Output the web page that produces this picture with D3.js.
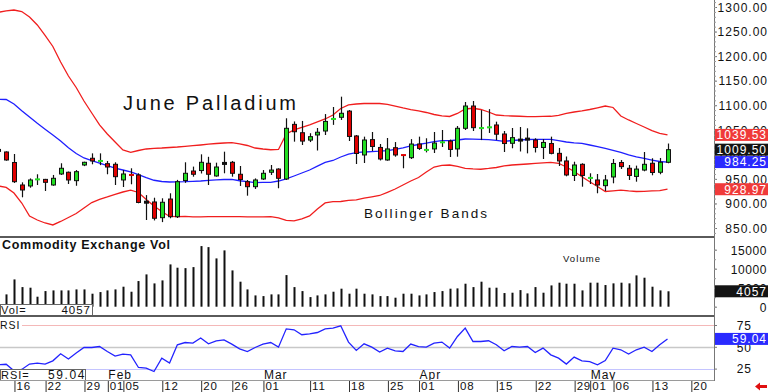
<!DOCTYPE html>
<html>
<head>
<meta charset="utf-8">
<script src="https://cdn.jsdelivr.net/npm/d3@7"></script>
<style>
  html, body { margin: 0; padding: 0; background: #fff; }
  svg { display: block; }
  text { font-family: "Liberation Sans", Arial, sans-serif; }
</style>
</head>
<body>
<svg id="chart" width="768" height="392"></svg>
<script>
// ---------------- DATA ----------------
const dates = [
  "2024-01-11","2024-01-12","2024-01-16","2024-01-17","2024-01-18","2024-01-19","2024-01-22","2024-01-23","2024-01-24","2024-01-25","2024-01-26","2024-01-29","2024-01-30","2024-01-31",
  "2024-02-01","2024-02-02","2024-02-05","2024-02-06","2024-02-07","2024-02-08","2024-02-09","2024-02-12","2024-02-13","2024-02-14","2024-02-15","2024-02-16","2024-02-20","2024-02-21","2024-02-22","2024-02-23","2024-02-26","2024-02-27","2024-02-28","2024-02-29",
  "2024-03-01","2024-03-04","2024-03-05","2024-03-06","2024-03-07","2024-03-08","2024-03-11","2024-03-12","2024-03-13","2024-03-14","2024-03-15","2024-03-18","2024-03-19","2024-03-20","2024-03-21","2024-03-22","2024-03-25","2024-03-26","2024-03-27","2024-03-28",
  "2024-04-01","2024-04-02","2024-04-03","2024-04-04","2024-04-05","2024-04-08","2024-04-09","2024-04-10","2024-04-11","2024-04-12","2024-04-15","2024-04-16","2024-04-17","2024-04-18","2024-04-19","2024-04-22","2024-04-23","2024-04-24","2024-04-25","2024-04-26","2024-04-29","2024-04-30",
  "2024-05-01","2024-05-02","2024-05-03","2024-05-06","2024-05-07","2024-05-08","2024-05-09","2024-05-10","2024-05-13","2024-05-14","2024-05-15"
];
const futureDates = ["2024-05-16","2024-05-17","2024-05-20"];

const open = [1010,1004.8,983.4,937.6,935.6,948,949,937.6,960,963.5,946.4,978.3,992,985.5,981,979.7,947.8,958,958,902.5,903,871,909,873,946.7,966,967,981.8,956,981.5,983.8,959.4,944.3,934.1,949.8,963.5,970,949.8,1061,1044,1029,1039.4,1047.5,1071,1075.4,1088,1037.4,998.7,1030,1014,988.5,1013.5,998.5,993.2,1021,1008,1011,1023,1027,1011,1053,1098.4,1052,1054,1059.8,1041.4,1022.5,1029,1031,1029.2,1014,1022,1002,986.5,957,979.7,951,947.8,936.2,953.9,983.4,971.6,955,968,981.8,963.5,983.8];
const high = [1023,1006,1000.7,943,951,959.4,950,958,981.8,965,968,985,1002,1002,986.5,983.8,968,971.6,961.4,917,911.7,910.5,920.7,948,983.8,975,1000,995,983,1005.4,986.5,976.3,947.8,951,968,978.3,971.6,1073.4,1067,1068,1043,1053.6,1082,1096.4,1117.4,1090.3,1039.4,1036,1045.5,1021,1033.3,1025,999,1031,1036,1032.7,1045.5,1049.6,1030,1057.7,1106.6,1108.6,1090,1092,1066.5,1047.5,1053.6,1055.7,1053,1032.7,1031,1036,1013,995.6,985,981.8,961.4,960,958,990.5,988.5,978.3,977,1004.8,992,992.6,1022];
const low = [1003,987,941.7,912.5,932,937.6,925.4,936,958,939.6,936,976,979.7,978,959.4,937.6,933.5,939,900.3,866.3,865.4,862,869.8,870.4,942,954.5,961,937.6,954.5,961.4,954.5,935.6,915.8,929.5,947.8,958,930.9,947.8,1025.8,1019,1025,1007.8,1039.4,1060,1070,1027.2,980.3,982.4,1006.8,987.5,987,995.2,971.6,990.5,1008.9,1004,1002.7,1015,994.6,995.2,1049.6,1047.5,1029,1043.5,1029,1004.8,1012.3,1005.8,1002,1003.8,990.5,1000,976.3,955.3,945.7,934.1,939.6,920.7,925.4,941,970.2,947.8,944.3,965.5,957.3,959.4,981.8];
const close = [1006,988.5,944.3,927.4,947.8,949,943,951.2,971.6,947.8,964.7,983.8,986.5,986.5,974.2,954.5,960,956.8,902,902.5,869.8,902.4,873,944.3,961.4,959.4,983.8,959.4,974.2,981.5,961.4,948.8,934.1,947.8,961.4,968,951.2,1053,1046,1027,1036,1045,1067,1072,1083.6,1036.4,1001.7,1029.2,1016,990.5,1011,998.7,997,1021,1012,1009,1023,1024.5,1010,1053,1098.4,1054.3,1053.5,1055,1041,1022,1034,1029,1031,1014,1024.2,1002,986.5,958,978.3,957,952,937.6,947.8,981.4,975,957,970,979.7,963,983.8,1009.5];

const upperBand = [1289.2,1291.9,1293.9,1290.8,1279.6,1263.4,1242.0,1219.6,1188.0,1159.5,1136.1,1108.6,1084.2,1059.8,1041.5,1025.1,1008.9,1004.2,1007.8,1010.9,1012.3,1012.9,1013.9,1014.9,1016.4,1017.6,1019.0,1020.7,1022.1,1023.1,1023.7,1021.5,1018.0,1012.9,1010.9,1009.3,1009.9,1041.4,1049.6,1054.7,1059.8,1065.9,1072.0,1080.1,1093.4,1100.5,1102.5,1103.5,1103.9,1103.5,1101.9,1098.4,1094.4,1090.9,1088.3,1085.2,1081.1,1078.1,1077.1,1083.2,1092.3,1093.8,1091.3,1086.2,1080.1,1078.7,1078.1,1077.5,1076.9,1076.7,1077.1,1077.5,1079.5,1083.2,1086.2,1088.3,1091.3,1094.8,1098.4,1095.4,1078.1,1070.0,1062.8,1055.7,1048.1,1042.9,1039.53];
const middleBand = [1112.1,1111.7,1102.5,1088.9,1076.0,1063.2,1051.2,1039.4,1027.2,1013.5,1001.7,992.6,987.3,982.0,976.9,971.8,968.1,964.5,958.6,952.5,947.2,944.7,943.7,943.9,944.3,945.1,945.7,946.8,947.8,948.8,948.8,946.2,944.5,942.5,942.9,943.1,945.7,950.2,955.9,962.0,968.1,975.9,983.4,987.5,994.6,1000.5,1003.4,1004.8,1005.6,1006.4,1007.6,1010.3,1013.3,1017.4,1020.0,1022.7,1025.8,1027.8,1027.8,1029.2,1031.2,1030.8,1030.6,1030.0,1028.3,1026.2,1028.2,1029.2,1030.2,1030.6,1030.6,1030.4,1027.8,1025.1,1023.5,1022.5,1019.0,1015.8,1011.9,1008.0,1003.8,998.7,995.0,992.0,988.1,985.4,984.25];
const lowerBand = [935.6,932.5,921.3,900.9,874.5,866.3,860.2,856.2,863.3,871.4,879.6,890.8,901.8,908.1,913.2,918.7,923.3,927.0,922.3,908.1,894.8,883.6,873.5,873.1,873.5,872.5,872.7,873,873,873.2,873.2,873.0,872.8,872.5,872.8,873,870.5,865.5,864.5,868.6,874.5,888.7,901.0,903.6,904.0,906.4,907.1,910.7,913.6,916.2,922.7,929.4,937.6,945.7,952.8,964.1,974.2,977.7,978.3,975.3,971.6,970.2,969.6,971.2,973.2,976.3,978.3,979.3,980.3,981.4,982.8,983.6,981.8,974.2,965.1,954.5,944.3,934.5,924.3,925.8,927.2,925.4,924.3,924.6,925.4,926.2,928.97];

const volume = [3000,3240,7180,5160,5000,2630,4110,4290,4290,4290,4550,4550,3420,3850,4290,4550,5260,3940,6750,8500,6130,6920,11130,10260,10150,10420,15950,15680,12710,14820,9550,6580,4550,2970,2790,3240,3240,8320,5160,4110,2530,2970,3240,3940,4740,3420,4740,3420,3240,2790,2790,2370,3420,3420,2970,3240,3850,4110,4740,4820,6050,5160,6580,5000,5000,3590,3680,4370,3500,5160,3680,5600,6320,6050,6050,4290,6320,6320,5700,6140,6320,6140,8240,7630,5260,4290,4057];

const rsi = [29.5,30,22.5,24,30.2,31.3,30.2,33.9,42,36,42.8,49.2,49.2,50.3,44.6,39.3,41.6,40.8,26.3,25.6,21.7,37,31.3,52.3,54.9,54.2,60,53.4,56.9,58,53.1,47.7,44.6,49.2,53.1,54.9,49.6,70.6,69.5,63.8,64.9,66.4,70.6,71.4,74.1,55.4,45.8,53.4,49.6,43.9,48.5,45.4,44.6,53.1,50.3,49.6,54.2,55.4,48.5,61.8,71.4,56.1,56.1,56.9,52.3,45.4,50.3,49.6,50.3,43.5,48.5,40.8,37,30.2,38.2,33.9,33.1,29.4,34.3,48.5,46.6,41.6,46.6,49.6,44.6,52.3,59.04];

const priceTicks = [850,900,950,1000,1050,1100,1150,1200,1250,1300];
const volumeTicks = [0,5000,10000,15000];
const rsiTicks = [25,50,75];
const tickDates = ["2024-01-16","2024-01-22","2024-01-29","2024-02-01","2024-02-05","2024-02-12","2024-02-20","2024-02-26","2024-03-01","2024-03-11","2024-03-18","2024-03-25","2024-04-01","2024-04-08","2024-04-15","2024-04-22","2024-04-29","2024-05-01","2024-05-06","2024-05-13","2024-05-20"];
const tickLabels = ["16","22","29","01","05","12","20","26","01","11","18","25","01","08","15","22","29","01","06","13","20"];
const monthDates = ["2024-02-01","2024-03-01","2024-04-01","2024-05-01"];
const monthLabels = ["Feb","Mar","Apr","May"];

const chartTitle = "June Palladium";
const bandLabel = "Bollinger Bands";
const volTitle = "Commodity Exchange Vol";

// ---------------- LAYOUT ----------------
const W = 768, H = 392, plotR = 714;
const svg = d3.select("#chart");
svg.append("rect").attr("width", W).attr("height", H).attr("fill", "#fff");

const axisDates = dates.concat(futureDates);
const n = dates.length;
const x = d3.scaleLinear().domain([0, n - 1]).range([-1.6, 667.5]);
const yP = d3.scaleLinear().domain([850, 1300]).range([228, 7]);
const yV = d3.scaleLinear().domain([0, 15000]).range([306.7, 249.7]);
const yR = d3.scaleLinear().domain([25, 75]).range([368.6, 325]);

const defs = svg.append("defs");
defs.append("clipPath").attr("id", "cTop").append("rect").attr("x", 0).attr("y", 0).attr("width", plotR).attr("height", 236);
defs.append("clipPath").attr("id", "cVol").append("rect").attr("x", 0).attr("y", 238).attr("width", plotR).attr("height", 77);
defs.append("clipPath").attr("id", "cRsi").append("rect").attr("x", 0).attr("y", 317).attr("width", plotR).attr("height", 63);

const RED = "#f01e1e", BLUE = "#1f1fff", GREEN = "#22dd22", CRED = "#e00000";

// ---------- TOP PANEL ----------
const gTop = svg.append("g").attr("clip-path", "url(#cTop)");
gTop.append("text").attr("x", 123).attr("y", 110).attr("font-size", 20)
  .attr("textLength", 173).attr("lengthAdjust", "spacing").attr("fill", "#111").text(chartTitle);
gTop.append("text").attr("x", 364).attr("y", 218.3).attr("font-size", 13.5)
  .attr("textLength", 123).attr("lengthAdjust", "spacing").attr("fill", "#111").text(bandLabel);

const band = arr => d3.line().x((d, i) => x(i)).y(d => yP(d))(arr);
gTop.append("path").attr("d", band(upperBand)).attr("fill", "none").attr("stroke", RED).attr("stroke-width", 1.3);
gTop.append("path").attr("d", band(lowerBand)).attr("fill", "none").attr("stroke", RED).attr("stroke-width", 1.3);
gTop.append("path").attr("d", band(middleBand)).attr("fill", "none").attr("stroke", BLUE).attr("stroke-width", 1.3);

const idx = d3.range(n);
const cg = gTop.append("g");
idx.forEach(i => {
  const cx = Math.round(x(i));
  const o = open[i], c = close[i];
  cg.append("line").attr("x1", cx + 0.5).attr("x2", cx + 0.5)
    .attr("y1", yP(high[i])).attr("y2", yP(low[i])).attr("stroke", "#111").attr("stroke-width", 1.2);
  if (o === c) {
    cg.append("rect").attr("x", cx - 2).attr("width", 5).attr("y", yP(o) - 1.5).attr("height", 3).attr("fill", "#111");
  } else if (Math.abs(c - o) < 2) {
    cg.append("rect").attr("x", cx - 2).attr("width", 5).attr("y", yP(Math.max(o, c)) - 1).attr("height", 2)
      .attr("fill", c > o ? GREEN : CRED);
  } else {
    const t = yP(Math.max(o, c)), b = yP(Math.min(o, c));
    cg.append("rect").attr("x", cx - 1.5).attr("width", 4).attr("y", t).attr("height", Math.max(1, b - t))
      .attr("fill", c > o ? GREEN : CRED).attr("stroke", "#111").attr("stroke-width", 1);
  }
});

// separators
svg.append("rect").attr("x", 0).attr("y", 236).attr("width", plotR).attr("height", 2).attr("fill", "#5a5a5a");
svg.append("rect").attr("x", 0).attr("y", 315).attr("width", plotR).attr("height", 2).attr("fill", "#5a5a5a");
svg.append("line").attr("x1", 0).attr("x2", plotR).attr("y1", 380.5).attr("y2", 380.5).attr("stroke", "#9a9a9a");

// ---------- VOLUME PANEL ----------
const gVol = svg.append("g").attr("clip-path", "url(#cVol)");
gVol.append("text").attr("x", 2).attr("y", 249).attr("font-size", 12.5).attr("font-weight", "bold")
  .attr("textLength", 168).attr("lengthAdjust", "spacing").attr("fill", "#111").text(volTitle);
gVol.append("text").attr("x", 563).attr("y", 262.3).attr("font-size", 9.5)
  .attr("textLength", 37).attr("lengthAdjust", "spacing").attr("fill", "#111").text("Volume");
gVol.selectAll("rect.v").data(volume).join("rect").attr("class", "v")
  .attr("x", (d, i) => Math.round(x(i)) - 0.5).attr("width", 2)
  .attr("y", d => yV(d)).attr("height", d => yV(0) - yV(d)).attr("fill", "#111");
// Vol= box
gVol.append("rect").attr("x", 0.5).attr("y", 304.5).attr("width", 92).attr("height", 11).attr("fill", "#fff").attr("stroke", "#666");
gVol.append("text").attr("x", 1).attr("y", 313.8).attr("font-size", 11).attr("letter-spacing", 1).attr("fill", "#111").text("Vol=");
gVol.append("text").attr("x", 91).attr("y", 313.8).attr("font-size", 11.5).attr("letter-spacing", 1).attr("text-anchor", "end")
  .attr("fill", "#111").text(d3.format("d")(volume[n - 1]));

// ---------- RSI PANEL ----------
const gR = svg.append("g").attr("clip-path", "url(#cRsi)");
gR.append("line").attr("x1", 22).attr("x2", plotR).attr("y1", Math.round(yR(75)) + 0.5).attr("y2", Math.round(yR(75)) + 0.5).attr("stroke", "#f4b8b8");
gR.append("line").attr("x1", 0).attr("x2", plotR).attr("y1", Math.round(yR(50)) + 0.5).attr("y2", Math.round(yR(50)) + 0.5).attr("stroke", "#c8c8c8").attr("stroke-width", 1.3);
gR.append("line").attr("x1", 0).attr("x2", plotR).attr("y1", Math.round(yR(25)) + 0.5).attr("y2", Math.round(yR(25)) + 0.5).attr("stroke", "#c4c4ff");
gR.append("text").attr("x", 0).attr("y", 328.5).attr("font-size", 10.5).attr("letter-spacing", 1).attr("fill", "#111").text("RSI");
gR.append("path").attr("d", d3.line().x((d, i) => x(i)).y(d => yR(d))(rsi))
  .attr("fill", "none").attr("stroke", "#2323ff").attr("stroke-width", 1.3);
gR.append("rect").attr("x", 0.5).attr("y", 369.5).attr("width", 85).attr("height", 11).attr("fill", "#fff").attr("stroke", "#666");
gR.append("text").attr("x", 1).attr("y", 378.6).attr("font-size", 11).attr("letter-spacing", 1).attr("fill", "#111").text("RSI=");
gR.append("text").attr("x", 86).attr("y", 378.6).attr("font-size", 12).attr("letter-spacing", 1.6).attr("text-anchor", "end")
  .attr("fill", "#111").text(d3.format(".2f")(rsi[n - 1]));
// month labels
monthDates.forEach((d, k) => {
  gR.append("text").attr("x", x(axisDates.indexOf(d)) + 1).attr("y", 379.3).attr("font-size", 12)
    .attr("letter-spacing", 1).attr("fill", "#111").text(monthLabels[k]);
});

// ---------- DATE AXIS ----------
const tickPos = tickDates.map(d => axisDates.indexOf(d));
const xAxis = d3.axisBottom(x).tickValues(tickPos).tickSize(11).tickPadding(0)
  .tickFormat((d, k) => tickLabels[k]);
const gX = svg.append("g").attr("transform", "translate(0,381)").call(xAxis);
gX.select(".domain").remove();
gX.selectAll(".tick line").attr("stroke", "#333").attr("transform", "translate(0.5,0)");
gX.selectAll(".tick text").attr("x", 2).attr("y", 8.8).attr("dy", 0).attr("text-anchor", "start")
  .attr("font-size", 11.5).attr("letter-spacing", 0.8).attr("fill", "#111")
  .attr("font-family", "Liberation Sans, Arial, sans-serif");

// ---------- RIGHT AXES ----------
svg.append("line").attr("x1", plotR + 0.5).attr("x2", plotR + 0.5).attr("y1", 0).attr("y2", 381).attr("stroke", "#777");

function rightAxis(scale, ticks, fmt, xEnd, ls, minor) {
  const g = svg.append("g").attr("transform", `translate(${plotR},0)`)
    .call(d3.axisRight(scale).tickValues(ticks).tickSize(3).tickFormat(fmt));
  g.select(".domain").remove();
  g.selectAll(".tick line").attr("stroke", "#777");
  g.selectAll(".tick text").attr("x", xEnd - plotR).attr("dy", "0.36em").attr("text-anchor", "end")
    .attr("font-size", 12).attr("letter-spacing", ls).attr("fill", "#111")
    .attr("font-family", "Liberation Sans, Arial, sans-serif");
  if (minor) {
    const gm = svg.append("g").attr("transform", `translate(${plotR},0)`)
      .call(d3.axisRight(scale).tickValues(minor).tickSize(2).tickFormat(""));
    gm.select(".domain").remove();
    gm.selectAll(".tick line").attr("stroke", "#999");
  }
  return g;
}
rightAxis(yP, priceTicks, d3.format(".2f"), 768, 1, d3.range(840, 1311, 10));
rightAxis(yV, volumeTicks, d3.format("d"), 767, 0.6, d3.range(0, 16001, 2500));
rightAxis(yR, rsiTicks, d3.format("d"), 752, 1, null);

// ---------- TAGS ----------
function tag(yc, txt, fill) {
  svg.append("rect").attr("x", 715).attr("y", yc - 6).attr("width", 53).attr("height", 12).attr("fill", fill);
  svg.append("text").attr("x", 767).attr("y", yc + 4.4).attr("text-anchor", "end").attr("font-size", 12)
    .attr("letter-spacing", 1).attr("fill", "#fff").text(txt);
}
const f2 = d3.format(".2f");
tag(yP(upperBand[n - 1]), f2(upperBand[n - 1]), "#f03a3a");
tag(yP(close[n - 1]), f2(close[n - 1]), "#141414");
tag(yP(middleBand[n - 1]), f2(middleBand[n - 1]), "#2a2aff");
tag(yP(lowerBand[n - 1]), f2(lowerBand[n - 1]), "#f03a3a");
tag(yV(volume[n - 1]), d3.format("d")(volume[n - 1]), "#141414");
tag(yR(rsi[n - 1]), f2(rsi[n - 1]), "#2a2aff");

// red arrow bottom-right
svg.append("path").attr("d", "M755,386.5 L760,382.5 L760,385 L767,385 L767,388 L760,388 L760,390.5 Z").attr("fill", "#e01010");
</script>
</body>
</html>
